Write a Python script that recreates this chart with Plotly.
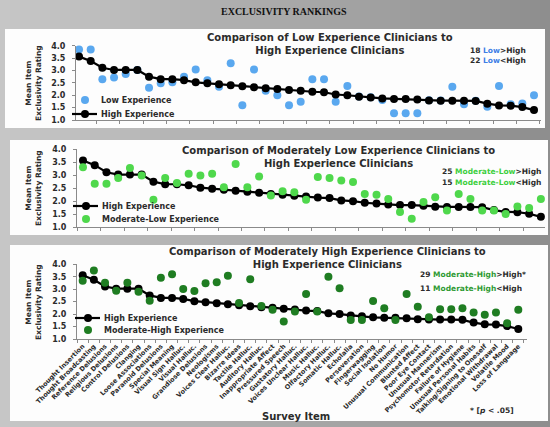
import plotly.graph_objects as go

W, H = 550, 427

# ---- data -------------------------------------------------------------
items = [
    "Thought Insertion", "Thought Broadcasting", "Reference Delusions",
    "Religious Delusions", "Control Delusions", "Clanging",
    "Loose Associations", "Paranoid Delusions", "Special Meaning",
    "Visual Sign Halluc.", "Visual Halluc.", "Grandiose Delusions",
    "Neologisms", "Voices Clear Halluc.", "Bizarre Ideas", "Tactile Halluc.",
    "Auditory Halluc.", "Inappropriate Affect", "Pressured Speech",
    "Gustatory Halluc.", "Voices Unclear Halluc.", "Music Halluc.",
    "Olfactory Halluc.", "Somatic Halluc.", "Echolalia", "Perseveration",
    "Fingerwagging", "Social Isolation", "No Humor", "Unusual Communication",
    "Blunted Affect", "Poor Eye Contact", "Unusual Mannerism",
    "Psychomotor Retardation", "Failure of Hygiene", "Unusual Personal Habits",
    "Talking/Signing to Oneself", "Emotional Withdrawal", "Volatile Mood",
    "Loss of Language",
]

high_exp = [3.56, 3.38, 3.11, 3.02, 3.02, 3.02, 2.75, 2.65, 2.65, 2.61,
            2.52, 2.48, 2.44, 2.40, 2.36, 2.32, 2.28, 2.25, 2.21, 2.18,
            2.14, 2.12, 2.03, 2.00, 1.94, 1.91, 1.87, 1.85, 1.85, 1.83,
            1.79, 1.78, 1.78, 1.78, 1.77, 1.66, 1.59, 1.58, 1.52, 1.40]

low_exp = [3.85, 3.85, 2.65, 2.72, 2.86, 3.02, 2.30, 2.48, 2.52, 2.75,
           3.04, 2.61, 2.34, 3.29, 1.60, 3.04, 2.18, 2.00, 1.60, 1.74,
           2.65, 2.65, 1.74, 2.37, 1.95, 1.92, 1.81, 1.27, 1.27, 1.27,
           1.80, 1.79, 2.34, 1.64, 1.78, 1.54, 2.37, 1.64, 1.67, 2.00]

mod_low_exp = [3.30, 2.67, 2.67, 2.89, 3.27, 2.98, 2.06, 2.89, 2.70, 3.05,
               2.98, 3.05, 2.53, 3.43, 2.53, 2.95, 2.22, 2.38, 2.34, 2.06,
               2.93, 2.89, 2.79, 2.74, 2.28, 2.25, 2.08, 1.59, 1.33, 1.97,
               2.15, 1.64, 2.28, 2.08, 1.64, 1.64, 1.51, 1.80, 1.74, 2.08]

mod_high_exp = [3.34, 3.75, 3.26, 2.94, 3.26, 2.90, 2.54, 3.46, 3.60, 3.01,
                2.93, 3.24, 3.28, 3.54, 2.45, 3.40, 2.33, 2.17, 1.70, 2.10,
                2.81, 2.10, 3.50, 3.04, 1.76, 1.76, 2.53, 2.23, 1.76, 2.81,
                2.30, 1.87, 2.19, 2.19, 2.23, 2.06, 1.97, 2.06, 1.63, 2.17]

y_ticks = [1.0, 1.5, 2.0, 2.5, 3.0, 3.5, 4.0]

# ---- styling ----------------------------------------------------------
BLUE = "#5aa8ef"
LGREEN = "#4fd84c"
DGREEN = "#1f7d22"
TXT = "#2b2b2b"
FONT = "DejaVu Sans"


def px(x):
    return x / W


def py(y):
    return 1 - y / H


fig = go.Figure()

# grey gradient page background
n_strips = 55
for i in range(n_strips):
    t = i / (n_strips - 1)
    g = int(round(198 - t * 56))
    fig.add_shape(type="rect", xref="paper", yref="paper",
                  x0=px(i * 10), x1=px(i * 10 + 10.5), y0=0, y1=1,
                  line_width=0, fillcolor=f"rgb({g},{g},{g})", layer="below")

panels = [
    dict(box=(5, 29, 545, 128), xd=(76, 541), yd=(45.7, 120), xr=(-0.26, 39.6),
         title="Comparison of Low Experience Clinicians to<br>High Experience Clinicians",
         tpos=(330, 44), comp=low_exp, comp_name="Low Experience", comp_color=BLUE,
         comp_first=True, key="Low", key_color="#3f7fe6",
         counts=("18", "&gt;High", "22", "&lt;High"), cpos=(468, 50, 61),
         legend=[(85, 100, "Low Experience", BLUE, False),
                 (85, 114, "High Experience", "black", True)],
         ytitle=(33, 83)),
    dict(box=(10, 140, 548, 235), xd=(77, 545), yd=(149, 227.3), xr=(-0.51, 39.35),
         title="Comparison of Moderately Low Experience Clinicians to<br>High Experience Clinicians",
         tpos=(338, 157), comp=mod_low_exp, comp_name="Moderate-Low Experience",
         comp_color=LGREEN, comp_first=False, key="Moderate-Low", key_color="#3fcf3f",
         counts=("25", "&gt;High", "15", "&lt;High"), cpos=(440, 171, 182),
         legend=[(86, 206, "High Experience", "black", True),
                 (86, 219, "Moderate-Low Experience", LGREEN, False)],
         ytitle=(33, 188)),
    dict(box=(10, 245, 548, 421), xd=(77, 527), yd=(264.3, 339), xr=(-0.51, 39.78),
         title="Comparison of Moderately High Experience Clinicians to<br>High Experience Clinicians",
         tpos=(327, 258), comp=mod_high_exp, comp_name="Moderate-High Experience",
         comp_color=DGREEN, comp_first=False, key="Moderate-High", key_color="#2f9a33",
         counts=("29", "&gt;High*", "11", "&lt;High"), cpos=(418, 274, 288),
         legend=[(88, 318, "High Experience", "black", True),
                 (88, 330, "Moderate-High Experience", DGREEN, False)],
         ytitle=(33, 302)),
]

for k, p in enumerate(panels):
    sfx = "" if k == 0 else str(k + 1)
    xa, ya = "x" + sfx, "y" + sfx
    x0, y0, x1, y1 = p["box"]
    fig.add_shape(type="rect", xref="paper", yref="paper",
                  x0=px(x0), x1=px(x1), y0=py(y1), y1=py(y0),
                  line_width=0, fillcolor="#fdfdfd", layer="below")

    high_tr = go.Scatter(x=items, y=high_exp, mode="lines+markers",
                         name="High Experience", xaxis=xa, yaxis=ya,
                         line=dict(color="black", width=2.2),
                         marker=dict(color="black", size=8),
                         cliponaxis=False, showlegend=False)
    comp_tr = go.Scatter(x=items, y=p["comp"], mode="markers",
                         name=p["comp_name"], xaxis=xa, yaxis=ya,
                         marker=dict(color=p["comp_color"], size=8),
                         cliponaxis=False, showlegend=False)
    if p["comp_first"]:
        fig.add_trace(comp_tr)
        fig.add_trace(high_tr)
    else:
        fig.add_trace(high_tr)
        fig.add_trace(comp_tr)

    last = k == len(panels) - 1
    fig.update_layout({
        "xaxis" + sfx: dict(
            domain=[px(p["xd"][0]), px(p["xd"][1])], anchor=ya,
            type="category", categoryorder="array", categoryarray=items,
            range=list(p["xr"]), showgrid=False, zeroline=False, automargin=False,
            showline=True, linecolor="#8a8a8a", linewidth=1,
            ticks="outside", ticklen=3, tickcolor="#8a8a8a", tickson="boundaries",
            showticklabels=last, tickangle=-45,
            tickfont=dict(family=FONT, size=6.5, color=TXT, weight="bold"),
        ),
        "yaxis" + sfx: dict(
            domain=[py(p["yd"][1]), py(p["yd"][0])], anchor=xa,
            range=[1, 4], tickvals=y_ticks, ticktext=[f"{v:.1f}" for v in y_ticks],
            showgrid=False, zeroline=False, showline=True, linecolor="#8a8a8a",
            linewidth=1, ticks="outside", ticklen=3, tickcolor="#8a8a8a",
            ticklabelstandoff=5, automargin=False,
            tickfont=dict(family=FONT, size=8, color=TXT, weight="bold"),
        ),
    })

    # panel title
    fig.add_annotation(xref="paper", yref="paper", x=px(p["tpos"][0]), y=py(p["tpos"][1]),
                       text=f"<b>{p['title']}</b>", showarrow=False,
                       xanchor="center", yanchor="middle", align="center",
                       font=dict(family=FONT, size=10, color=TXT))
    # counts
    cx, cy1, cy2 = p["cpos"]
    n1, s1, n2, s2 = p["counts"]
    for cy, n, s in ((cy1, n1, s1), (cy2, n2, s2)):
        fig.add_annotation(xref="paper", yref="paper", x=px(cx), y=py(cy),
                           text=f"<b>{n} <span style='color:{p['key_color']}'>{p['key']}</span>{s}</b>",
                           showarrow=False, xanchor="left", yanchor="middle",
                           font=dict(family=FONT, size=7.5, color=TXT))
    # legend keys
    for lx, ly, label, color, with_line in p["legend"]:
        if with_line:
            fig.add_shape(type="line", xref="paper", yref="paper",
                          x0=px(lx - 13), x1=px(lx + 12), y0=py(ly), y1=py(ly),
                          line=dict(color=color, width=2.2))
        fig.add_shape(type="circle", xref="paper", yref="paper",
                      xsizemode="pixel", ysizemode="pixel",
                      xanchor=px(lx), yanchor=py(ly), x0=-4, x1=4, y0=-4, y1=4,
                      fillcolor=color, line_width=0)
        fig.add_annotation(xref="paper", yref="paper", x=px(lx + 14), y=py(ly),
                           text=f"<b>{label}</b>", showarrow=False,
                           xanchor="left", yanchor="middle",
                           font=dict(family=FONT, size=8, color=TXT))
    # y-axis title
    fig.add_annotation(xref="paper", yref="paper", x=px(p["ytitle"][0]), y=py(p["ytitle"][1]),
                       text="<b>Mean Item<br>Exclusivity Rating</b>", textangle=-90,
                       showarrow=False, xanchor="center", yanchor="middle",
                       font=dict(family=FONT, size=7.5, color=TXT))

# page heading and footer texts
fig.add_annotation(xref="paper", yref="paper", x=px(284), y=py(11),
                   text="<b>EXCLUSIVITY RANKINGS</b>", showarrow=False,
                   xanchor="center", yanchor="middle",
                   font=dict(family="Liberation Serif", size=10, color="#111"))
fig.add_annotation(xref="paper", yref="paper", x=px(296), y=py(416),
                   text="<b>Survey Item</b>", showarrow=False,
                   xanchor="center", yanchor="middle",
                   font=dict(family=FONT, size=10, color=TXT))
fig.add_annotation(xref="paper", yref="paper", x=px(468), y=py(410),
                   text="<b>* [<i>p</i> &lt; .05]</b>", showarrow=False,
                   xanchor="left", yanchor="middle",
                   font=dict(family=FONT, size=7.5, color=TXT))

fig.update_layout(width=W, height=H,
                  margin=dict(l=0, r=0, t=0, b=0, autoexpand=False),
                  paper_bgcolor="#b0b0b0", plot_bgcolor="rgba(0,0,0,0)",
                  showlegend=False)

fig.write_html("out.html")
